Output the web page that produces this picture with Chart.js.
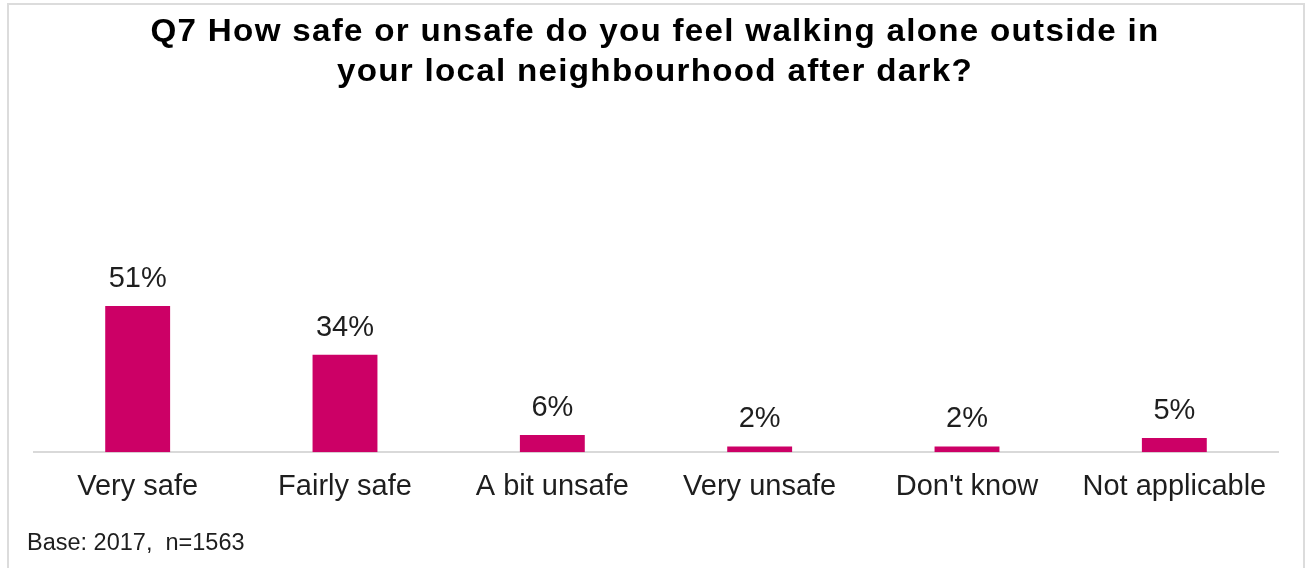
<!DOCTYPE html>
<html lang="en">

<head>
    <meta charset="UTF-8">
    <title>Q7 Feeling safe walking alone after dark</title>
    <style>
        body {
            margin: 0;
            background: #ffffff;
            font-family: Arial, "Liberation Sans", sans-serif;
        }

        .frame {
            position: absolute;
            left: 7px;
            top: 3px;
            width: 1294px;
            height: 570px;
            border: 2px solid #dcdcdc;
        }

        .wrap {
            position: absolute;
            left: 0;
            top: 0;
            width: 1308px;
            height: 568px;
        }
    </style>
</head>

<body>
    <div class="frame"></div>
    <div class="wrap">
        <canvas id="safetyChart" width="1308" height="568"></canvas>
    </div>

    <script src="https://cdn.jsdelivr.net/npm/chart.js"></script>

    <script>
        // Q7 answers and share of respondents (%)
        const respostas = ['Very safe', 'Fairly safe', 'A bit unsafe', 'Very unsafe', "Don't know", 'Not applicable'];
        const percentuais = [51, 34, 6, 2, 2, 5];
        const tituloLinhas = ['Q7 How safe or unsafe do you feel walking alone outside in', 'your local neighbourhood after dark?'];
        const notaBase = 'Base: 2017,  n=1563';

        const corBarra = '#cc0066';
        const fonte = 'Arial, "Liberation Sans", sans-serif';

        // title, value labels above the bars and the base note
        const textosPlugin = {
            id: 'textos',
            afterDatasetsDraw(chart) {
                const ctx = chart.ctx;
                const meta = chart.getDatasetMeta(0);
                ctx.save();
                ctx.textBaseline = 'alphabetic';

                // title (two centred lines, slightly widened)
                ctx.save();
                ctx.translate(655, 0);
                ctx.scale(1.07, 1);
                ctx.font = 'bold 31px ' + fonte;
                ctx.fillStyle = '#000000';
                ctx.textAlign = 'center';
                ctx.letterSpacing = '1.2px';
                ctx.fillText(tituloLinhas[0], 0, 41);
                ctx.fillText(tituloLinhas[1], 0, 81);
                ctx.restore();

                // percentages
                ctx.font = '29px ' + fonte;
                ctx.fillStyle = '#1e1e1e';
                ctx.textAlign = 'center';
                meta.data.forEach(function (bar, i) {
                    ctx.fillText(percentuais[i] + '%', bar.x, bar.y - 19);
                });

                // base note
                ctx.font = '23.5px ' + fonte;
                ctx.textAlign = 'left';
                ctx.fillText(notaBase, 27, 550);
                ctx.restore();
            }
        };

        const ctx = document.getElementById('safetyChart').getContext('2d');

        new Chart(ctx, {
            type: 'bar',
            data: {
                labels: respostas,
                datasets: [{
                    label: 'Q7',
                    data: percentuais,
                    backgroundColor: corBarra,
                    borderWidth: 0,
                    barPercentage: 0.313,
                    categoryPercentage: 1
                }]
            },
            options: {
                responsive: false,
                animation: false,
                layout: {
                    padding: { left: 34, right: 30, top: 140, bottom: 47 }
                },
                plugins: {
                    legend: { display: false },
                    tooltip: { enabled: false },
                    title: { display: false }
                },
                scales: {
                    x: {
                        grid: { display: false, drawTicks: false },
                        border: { display: true, color: '#d9d9d9', width: 2 },
                        ticks: {
                            color: '#1e1e1e',
                            padding: 17,
                            font: { family: fonte, size: 29 }
                        }
                    },
                    y: {
                        display: false,
                        min: 0,
                        max: 109
                    }
                }
            },
            plugins: [textosPlugin]
        });
    </script>
</body>

</html>
